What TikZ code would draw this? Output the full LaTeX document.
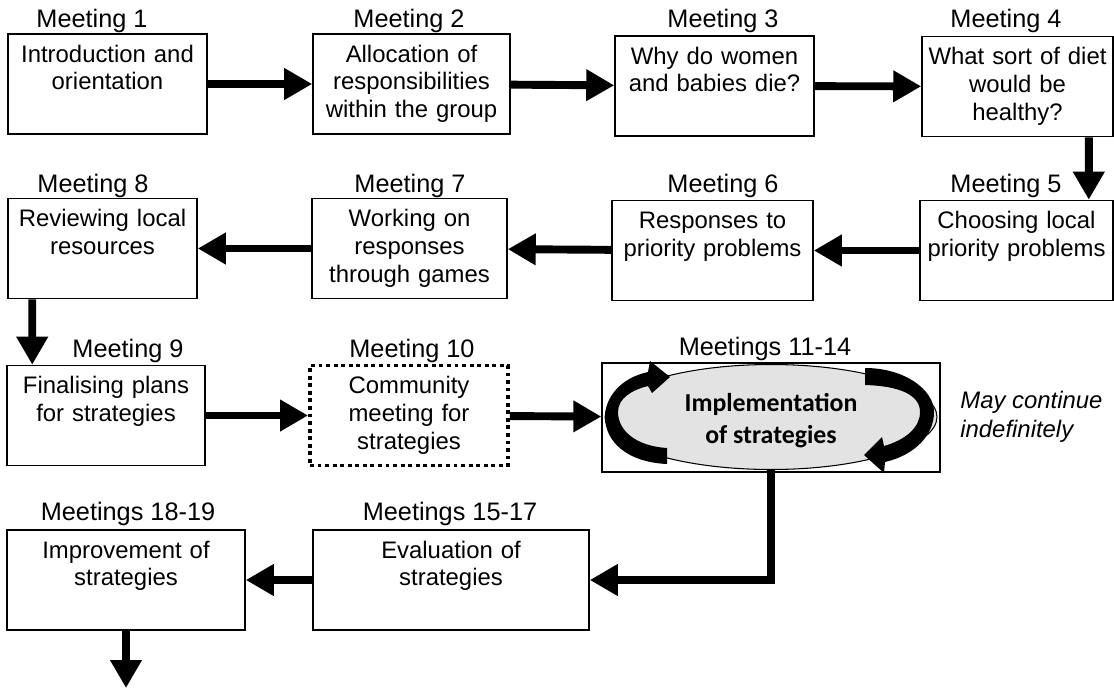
\documentclass[tikz,border=0pt]{standalone}
\usepackage{fontspec}
\setmainfont{Liberation Sans}
\newfontfamily\calibfont{Carlito}
\usetikzlibrary{arrows.meta,shapes.geometric}
\tikzset{
  meet/.style={draw,line width=0.9pt,align=center,inner xsep=0pt,inner ysep=0pt,text height=0.56cm,text depth=1.44cm,font=\fontsize{13.6}{15.9}\selectfont},
  dotbox/.style={meet,line width=2.2pt,dash pattern=on 2.2pt off 2.1pt},
  mlab/.style={anchor=base,inner sep=0pt,font=\fontsize{14.4}{17}\selectfont},
  flow/.style={line width=4.5pt,-{Triangle[length=0.56cm,width=0.6cm]}},
}
\begin{document}
\begin{tikzpicture}[x=0.02cm,y=-0.02cm]
\useasboundingbox (0,0) rectangle (1114,690);
\node[meet,text width=3.98cm] (m1) at (107.5,84) {Introduction and\\orientation};
\node[meet,text width=3.94cm] (m2) at (411.5,84) {Allocation of\\responsibilities\\within the group};
\node[meet,text width=3.98cm] (m3) at (714.5,86) {Why do women\\and babies die?};
\node[meet,text width=3.82cm] (m4) at (1017.5,86.5) {What sort of diet\\would be\\healthy?};
\node[meet,text width=3.86cm] (m5) at (1016.5,250.5) {Choosing local\\priority problems};
\node[meet,text width=4.02cm] (m6) at (712.5,250.5) {Responses to\\priority problems};
\node[meet,text width=3.9cm] (m7) at (409.5,248.5) {Working on\\responses\\through games};
\node[meet,text width=3.78cm] (m8) at (102.5,248.5) {Reviewing local\\resources};
\node[meet,text width=3.96cm] (m9) at (106,415.5) {Finalising plans\\for strategies};
\node[dotbox,text width=3.96cm] (m10) at (409,415.5) {Community\\meeting for\\strategies};
\node[draw,line width=0.8pt,minimum width=6.76cm,minimum height=2.18cm,inner sep=0pt] (m11) at (771,417.5) {};
\node[meet,text width=5.52cm] (m15) at (451,580) {Evaluation of\\strategies};
\node[meet,text width=4.76cm] (m18) at (126,580) {Improvement of\\strategies};
\node[ellipse,draw,line width=0.6pt,fill=gray!22,minimum width=6.64cm,minimum height=2.1cm,inner sep=0pt,align=center,text height=32.8pt,text depth=3pt,font=\calibfont\bfseries\fontsize{14.7}{18}\selectfont] (imp) at (771,417) {Implementation\\of strategies};
\fill (667,464) .. controls (625,462) and (605,440) .. (605,417) .. controls (605,398) and (620,378) .. (648,372) -- (650,361) -- (670,377) -- (652,393) -- (648,386) .. controls (632,390) and (618,398) .. (618,412) .. controls (618,430) and (635,446) .. (667,448) -- cycle;
\fill (865,368) .. controls (905,368) and (934,390) .. (934,412) .. controls (934,435) and (915,455) .. (885,462) -- (884,473) -- (864,455) -- (882,437) -- (884,446) .. controls (905,440) and (920,428) .. (920,412) .. controls (920,395) and (900,386) .. (865,385) -- cycle;
\node[mlab] (l1) at (92,27) {Meeting 1};
\node[mlab] (l2) at (409,27) {Meeting 2};
\node[mlab] (l3) at (723,27) {Meeting 3};
\node[mlab] (l4) at (1006,27) {Meeting 4};
\node[mlab] (l5) at (1006,192) {Meeting 5};
\node[mlab] (l6) at (723,192) {Meeting 6};
\node[mlab] (l7) at (410,192) {Meeting 7};
\node[mlab] (l8) at (93,192) {Meeting 8};
\node[mlab] (l9) at (128,357) {Meeting 9};
\node[mlab] (l10) at (412,357) {Meeting 10};
\node[mlab] (l11) at (765,355) {Meetings 11-14};
\node[mlab] (l15) at (450,520) {Meetings 15-17};
\node[mlab] (l18) at (128,520) {Meetings 18-19};
\node[anchor=west,align=left,inner sep=0pt,font=\itshape\fontsize{13.6}{16.5}\selectfont] (cont) at (960,417) {May continue\\indefinitely};
\coordinate (next) at (126,688);
\draw[flow] (m1) -- (m2);
\draw[flow] (m2) -- (m3);
\draw[flow] (m3) -- (m4);
\draw[flow] ([xshift=-0.5cm]m4.south east) -- ([xshift=-0.5cm]m5.north east);
\draw[flow] (m5) -- (m6);
\draw[flow] (m6) -- (m7);
\draw[flow] (m7) -- (m8);
\draw[flow] ([xshift=0.5cm]m8.south west) -- ([xshift=0.52cm]m9.north west);
\draw[flow] (m9) -- (m10);
\draw[flow] (m10) -- (m11);
\draw[flow] (imp.south) |- (m15);
\draw[flow] (m15) -- (m18);
\draw[flow] (m18) -- (next);
\end{tikzpicture}
\end{document}
